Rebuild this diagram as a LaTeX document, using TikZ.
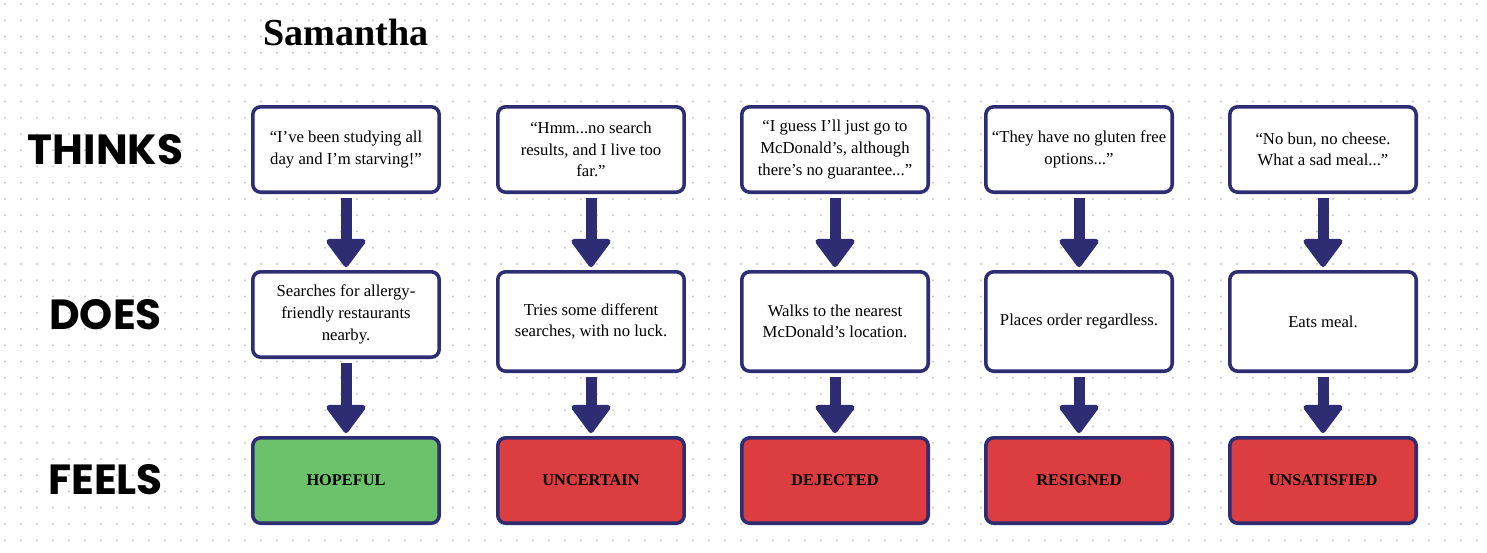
\documentclass[tikz,border=0pt]{standalone}
\usepackage{fontspec}
\setmainfont{Liberation Serif}
\newfontfamily\poppins{Poppins}
\usetikzlibrary{arrows.meta}
\usetikzlibrary{positioning}
\definecolor{Navy}{HTML}{2E2C72}
\definecolor{Hope}{HTML}{6BC26B}
\definecolor{Gloom}{HTML}{DB3D40}
\definecolor{Dot}{HTML}{C6C6CE}
\tikzset{
  % every box of the map: navy frame, rounded
  card/.style={draw=Navy,line width=2pt,rounded corners=0.16cm,
    minimum width=3.73cm,minimum height=1.71cm,inner sep=2pt,
    align=center,font=\fontsize{9.5}{12.3}\selectfont},
  tallcard/.style={card,minimum height=1.99cm},
  % coloured boxes of the last row
  mood/.style={card,fill=#1,font=\bfseries\fontsize{9.3}{11}\selectfont},
  % big navy arrows between the rows
  flow/.style={draw=Navy,line width=0.22cm,shorten <=0.08cm,shorten >=0.06cm,
    -{Triangle[length=0.6cm,width=0.86cm,round,line width=3pt]}},
  rowlabel/.style={font=\poppins\bfseries\fontsize{24}{29}\selectfont},
}
\begin{document}
\begin{tikzpicture}[x=0.02cm,y=-0.02cm]
  \useasboundingbox (0,0) rectangle (1487,552);
  % dotted background
  \foreach \x in {5,21,...,1485}
    \foreach \y in {4,20.25,...,550}
      \fill[Dot] (\x,\y) circle (1.1);
  \node[font=\bfseries\fontsize{21.7}{26}\selectfont] (name) at (346,32) {Samantha};
  \node[rowlabel] (thinks) at (105.5,150) {THINKS};
  \node[rowlabel] (does) at (105.5,315) {DOES};
  \node[rowlabel] (feels) at (105.5,480) {FEELS};
  % thinks
  \node[card,fill=white] (t1) at (346,149.5) {“I’ve been studying all\\day and I’m starving!”};
  \node[card,fill=white] (t2) at (591,149.5) {“Hmm...no search\\results, and I live too\\far.”};
  \node[card,fill=white] (t3) at (835,149.5) {“I guess I’ll just go to\\McDonald’s, although\\there’s no guarantee...”};
  \node[card,fill=white] (t4) at (1079,149.5) {“They have no gluten free\\options...”};
  \node[card,fill=white] (t5) at (1323,149.5) {“No bun, no cheese.\\What a sad meal...”};
  % does
  \node[card,fill=white] (d1) at (346,314.5) {Searches for allergy-\\friendly restaurants\\nearby.};
  \node[tallcard,fill=white] (d2) at (591,321.5) {Tries some different\\searches, with no luck.};
  \node[tallcard,fill=white] (d3) at (835,321.5) {Walks to the nearest\\McDonald’s location.};
  \node[tallcard,fill=white] (d4) at (1079,321.5) {Places order regardless.};
  \node[tallcard,fill=white] (d5) at (1323,321.5) {Eats meal.};
  % feels
  \node[mood=Hope] (f1) at (346,480.5) {HOPEFUL};
  \node[mood=Gloom] (f2) at (591,480.5) {UNCERTAIN};
  \node[mood=Gloom] (f3) at (835,480.5) {DEJECTED};
  \node[mood=Gloom] (f4) at (1079,480.5) {RESIGNED};
  \node[mood=Gloom] (f5) at (1323,480.5) {UNSATISFIED};
  \path (t1) edge[flow] (d1) (d1) edge[flow] (f1)
        (t2) edge[flow] (d2) (d2) edge[flow] (f2)
        (t3) edge[flow] (d3) (d3) edge[flow] (f3)
        (t4) edge[flow] (d4) (d4) edge[flow] (f4)
        (t5) edge[flow] (d5) (d5) edge[flow] (f5);
\end{tikzpicture}
\end{document}
